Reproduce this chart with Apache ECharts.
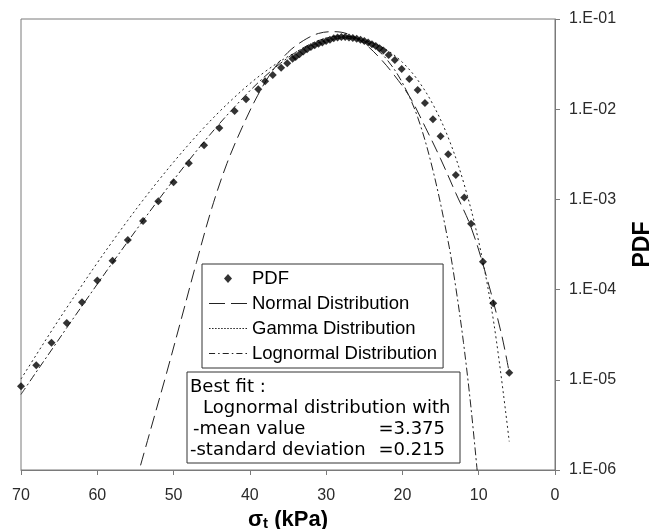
<!DOCTYPE html>
<html>
<head>
<meta charset="utf-8">
<script src="https://cdn.jsdelivr.net/npm/echarts@6/dist/echarts.min.js"></script>
<style>
  html, body { margin: 0; padding: 0; background: #fff; }
  #chart { width: 651px; height: 529px; }
</style>
</head>
<body>
<div id="chart"></div>
<script>
// ---- data ----
const pdfX = [70, 68, 66, 64, 62, 60, 58, 56, 54, 52, 50, 48, 46, 44, 42, 40.5, 38.9, 38, 37, 35.9, 35.1, 34.4,
  34, 33.5, 33, 32.5, 32, 31.5, 31, 30.5, 30, 29.5, 29, 28.5, 28, 27.5, 27, 26.5, 26, 25.5, 25, 24.5, 24, 23.5, 23, 22.5,
  21.8, 21.0, 20.1, 19.1, 18.0, 17.05, 16, 15, 14, 13, 11.9, 11, 9.45, 8.1, 6];
const pdfY = [8.5e-6, 1.45e-5, 2.57e-5, 4.27e-5, 7.24e-5, 1.26e-4, 2.09e-4, 3.55e-4, 5.75e-4, 9.55e-4, 1.55e-3, 2.51e-3, 3.98e-3, 6.17e-3, 9.55e-3, 1.29e-2, 1.66e-2, 2.04e-2, 2.40e-2, 2.88e-2, 3.24e-2, 3.63e-2,
  3.80e-2, 4.07e-2, 4.37e-2, 4.62e-2, 4.90e-2, 5.13e-2, 5.31e-2, 5.50e-2, 5.69e-2, 5.89e-2, 6.10e-2, 6.24e-2, 6.31e-2, 6.31e-2, 6.24e-2, 6.17e-2, 6.03e-2, 5.89e-2, 5.69e-2, 5.50e-2, 5.25e-2, 5.01e-2, 4.73e-2, 4.47e-2,
  3.98e-2, 3.51e-2, 2.79e-2, 2.16e-2, 1.63e-2, 1.17e-2, 7.76e-3, 5.01e-3, 3.16e-3, 1.86e-3, 1.05e-3, 5.37e-4, 2.04e-4, 7.08e-5, 1.20e-5];

const normalX = [55, 53, 51, 49, 47, 45, 43, 41, 39, 37, 35, 33, 31, 29, 27, 25, 23, 21, 19, 17, 15, 13, 11, 9, 7, 6];
const normalY = [7.08e-7, 2.82e-6, 1.12e-5, 4.68e-5, 2.00e-4, 7.94e-4, 2.51e-3, 6.31e-3, 1.41e-2, 2.69e-2, 4.27e-2, 5.75e-2, 6.92e-2, 7.24e-2, 6.76e-2, 5.37e-2, 3.72e-2, 2.34e-2, 1.35e-2, 6.31e-3, 2.82e-3, 1.17e-3, 4.90e-4, 1.41e-4, 3.16e-5, 1.20e-5];

const gammaX = [70, 68, 66, 64, 62, 60, 58, 56, 54, 52, 50, 48, 46, 44, 42, 40, 38, 36, 34, 32, 30, 28, 26, 24, 22, 20, 18, 16, 14, 12, 10, 8, 6];
const gammaY = [1.02e-5, 1.89e-5, 3.48e-5, 6.30e-5, 1.12e-4, 1.98e-4, 3.43e-4, 5.86e-4, 9.82e-4, 1.61e-3, 2.59e-3, 4.08e-3, 6.27e-3, 9.38e-3, 1.36e-2, 1.92e-2, 2.61e-2, 3.41e-2, 4.27e-2, 5.09e-2, 5.75e-2, 6.10e-2, 6.03e-2, 5.47e-2, 4.51e-2, 3.31e-2, 2.11e-2, 1.13e-2, 4.86e-3, 1.56e-3, 3.40e-4, 4.16e-5, 2.07e-6];

const lognormX = [70, 68, 66, 64, 62, 60, 58, 56, 54, 52, 50, 48, 46, 44, 42, 40, 38, 36, 34, 32, 30, 28, 26, 24, 22, 20, 18, 16, 14, 13, 12, 11, 10];
const lognormY = [6.89e-6, 1.22e-5, 2.14e-5, 3.77e-5, 6.59e-5, 1.15e-4, 1.99e-4, 3.41e-4, 5.82e-4, 9.84e-4, 1.64e-3, 2.70e-3, 4.36e-3, 6.89e-3, 1.06e-2, 1.60e-2, 2.32e-2, 3.22e-2, 4.26e-2, 5.31e-2, 6.14e-2, 6.50e-2, 6.15e-2, 5.08e-2, 3.52e-2, 1.96e-2, 8.13e-3, 2.10e-3, 3.40e-4, 1.05e-4, 2.60e-5, 4.80e-6, 6.50e-7];

const seriesNames = ['PDF', 'Normal Distribution', 'Gamma Distribution', 'Lognormal Distribution'];
const xTicks = { min: 0, max: 70, step: 10 };
const yTicks = { min: 1e-6, max: 1e-1 };
const fitLines = ['Best fit :', 'Lognormal distribution with', '-mean value', '-standard deviation'];
const fitValues = ['=3.375', '=0.215'];

function pairs(xs, ys) { return xs.map((x, i) => [x, ys[i]]); }

// legend icons (line samples drawn as small filled paths)
const iconDiamond = 'path://M4,0L8,4.5L4,9L0,4.5Z';
const iconDash = 'path://M0,0H16V1H0Z M22,0H38V1H22Z';
const iconDot = 'path://' + [0, 3, 6, 9, 12, 15, 18, 21, 24, 27, 30, 33, 36].map(x => 'M' + x + ',0H' + (x + 1.5) + 'V1H' + x + 'Z').join(' ');
const iconDashDot = 'path://M0,0H6V1H0Z M9,0H10.5V1H9Z M13.5,0H19.5V1H13.5Z M22.5,0H24V1H22.5Z M27,0H33V1H27Z M36,0H37.5V1H36Z';

const chart = echarts.init(document.getElementById('chart'), null, { renderer: 'canvas' });
const axisColor = '#7a7a7a';
const labelColor = '#2a2a2a';
const lineColor = '#222';

chart.setOption({
  animation: false,
  backgroundColor: '#fff',
  grid: { left: 21, right: 96, top: 19, bottom: 59, show: true, borderColor: axisColor, borderWidth: 1, containLabel: false, outerBoundsMode: 'none' },
  xAxis: {
    type: 'value', inverse: true, min: xTicks.min, max: xTicks.max, interval: xTicks.step,
    name: '{a|σ}{b|t}{a| (kPa)}', nameLocation: 'middle', nameGap: 33,
    nameTextStyle: { rich: {
      a: { fontFamily: 'Liberation Sans', fontWeight: 'bold', fontSize: 22, color: '#000' },
      b: { fontFamily: 'Liberation Sans', fontWeight: 'bold', fontSize: 15, color: '#000', verticalAlign: 'bottom', padding: [8, 0, 0, 0] }
    } },
    axisLine: { show: true, lineStyle: { color: axisColor, width: 1 } },
    axisTick: { show: true, inside: false, length: 5, lineStyle: { color: axisColor } },
    axisLabel: { margin: 18, fontFamily: 'Liberation Sans', fontSize: 16, color: labelColor },
    splitLine: { show: false }
  },
  yAxis: {
    type: 'log', logBase: 10, min: yTicks.min, max: yTicks.max, position: 'right',
    name: 'PDF', nameLocation: 'middle', nameGap: 76, nameRotate: 90,
    nameTextStyle: { fontFamily: 'Liberation Sans', fontWeight: 'bold', fontSize: 23, color: '#000' },
    axisLine: { show: true, lineStyle: { color: axisColor, width: 1 } },
    axisTick: { show: true, inside: false, length: 5, lineStyle: { color: axisColor } },
    axisLabel: {
      margin: 14, fontFamily: 'Liberation Sans', fontSize: 16, color: labelColor,
      formatter: function (v) {
        const e = Math.round(Math.log10(v));
        return '1.E-' + String(-e).padStart(2, '0');
      }
    },
    splitLine: { show: false },
    minorTick: { show: false }
  },
  legend: {
    orient: 'vertical', left: 202, top: 264,
    data: [
      { name: seriesNames[0], icon: iconDiamond, itemStyle: { color: '#000' } },
      { name: seriesNames[1], icon: iconDash, itemStyle: { color: lineColor } },
      { name: seriesNames[2], icon: iconDot, itemStyle: { color: lineColor } },
      { name: seriesNames[3], icon: iconDashDot, itemStyle: { color: lineColor } }
    ],
    symbolKeepAspect: true,
    itemWidth: 38, itemHeight: 9, itemGap: 6,
    padding: [5, 6, 5, 7],
    borderColor: '#333', borderWidth: 1, backgroundColor: '#fff',
    textStyle: { fontFamily: 'Liberation Sans', fontSize: 18.5, color: '#000' },
    selectedMode: false
  },
  series: [
    {
      name: seriesNames[1], type: 'line', data: pairs(normalX, normalY), symbol: 'none',
      smooth: 0.35, z: 3,
      lineStyle: { color: lineColor, width: 1, type: [13, 6] }, itemStyle: { color: lineColor }
    },
    {
      name: seriesNames[2], type: 'line', data: pairs(gammaX, gammaY), symbol: 'none',
      smooth: 0.35, z: 3,
      lineStyle: { color: lineColor, width: 1, type: [2, 3] }, itemStyle: { color: lineColor }
    },
    {
      name: seriesNames[3], type: 'line', data: pairs(lognormX, lognormY), symbol: 'none',
      smooth: 0.35, z: 3,
      lineStyle: { color: lineColor, width: 1, type: [8, 3, 2, 3] }, itemStyle: { color: lineColor }
    },
    {
      name: seriesNames[0], type: 'scatter', data: pairs(pdfX, pdfY), symbol: 'diamond', symbolSize: 8, z: 4,
      itemStyle: { color: '#000' }
    }
  ],
  graphic: [
    { type: 'rect', shape: { x: 187, y: 372, width: 273, height: 91 }, style: { fill: '#fff', stroke: '#333', lineWidth: 1 }, z: 10 },
    { type: 'text', x: 190, y: 387, style: { text: fitLines[0], font: '18px "DejaVu Sans"', fill: '#000', align: 'left', verticalAlign: 'middle' }, z: 11 },
    { type: 'text', x: 203, y: 408, style: { text: fitLines[1], font: '18px "DejaVu Sans"', fill: '#000', align: 'left', verticalAlign: 'middle' }, z: 11 },
    { type: 'text', x: 193, y: 429, style: { text: fitLines[2], font: '18px "DejaVu Sans"', fill: '#000', align: 'left', verticalAlign: 'middle' }, z: 11 },
    { type: 'text', x: 445, y: 429, style: { text: fitValues[0], font: '18px "DejaVu Sans"', fill: '#000', align: 'right', verticalAlign: 'middle' }, z: 11 },
    { type: 'text', x: 190, y: 450, style: { text: fitLines[3], font: '18px "DejaVu Sans"', fill: '#000', align: 'left', verticalAlign: 'middle' }, z: 11 },
    { type: 'text', x: 445, y: 450, style: { text: fitValues[1], font: '18px "DejaVu Sans"', fill: '#000', align: 'right', verticalAlign: 'middle' }, z: 11 }
  ]
});
</script>
</body>
</html>
